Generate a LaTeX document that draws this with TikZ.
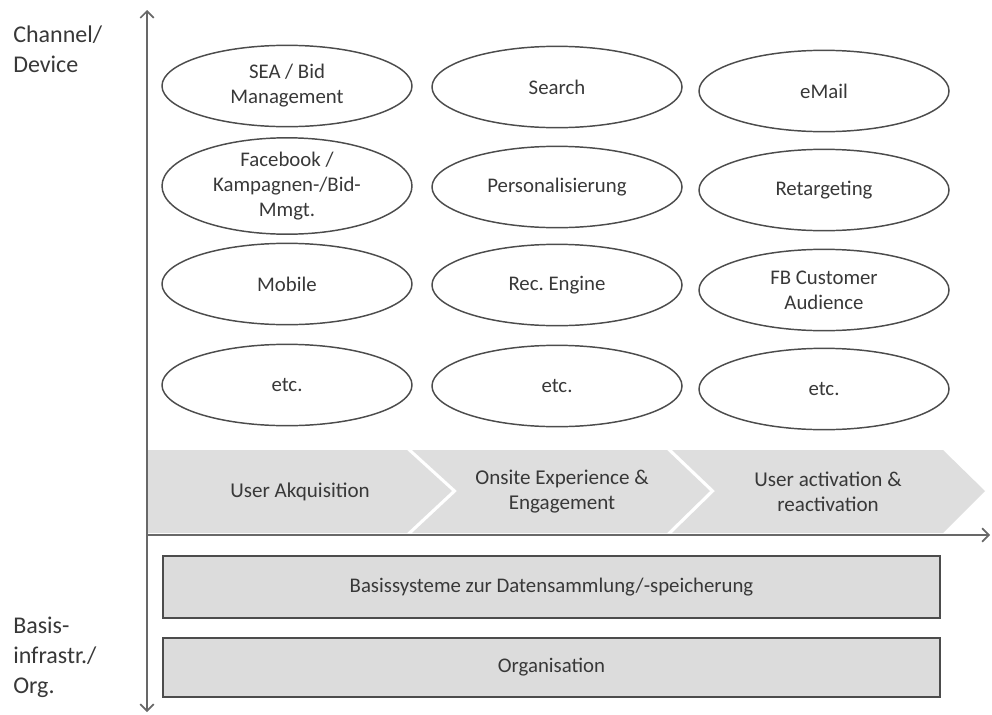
\documentclass[tikz,border=0pt]{standalone}
\usepackage{fontspec}
\setmainfont{Carlito}
\usetikzlibrary{shapes.geometric,arrows.meta}
\definecolor{txt}{HTML}{383838}
\definecolor{edge}{HTML}{4C4C4C}
\definecolor{axis}{HTML}{686868}
\definecolor{band}{HTML}{DEDEDE}
\definecolor{boxfill}{HTML}{DCDCDC}
\begin{document}
\begin{tikzpicture}[x=0.75pt,y=-0.75pt,
  every node/.style={text=txt,font=\fontsize{15.6}{18.8}\selectfont},
  channel/.style={ellipse,draw=edge,line width=1.1pt,minimum width=187.5pt,minimum height=61pt,inner sep=0pt,align=center},
  phase/.style={fill=band,draw=none},
  phasetext/.style={align=center,font=\fontsize{15.8}{18.8}\selectfont},
  basebox/.style={draw=edge,fill=boxfill,line width=1.1pt,minimum width=583pt,inner sep=0pt},
  sidelabel/.style={anchor=north west,align=left,inner sep=0pt,font=\fontsize{18}{22.5}\selectfont},
  axisline/.style={draw=axis,line width=1.3pt,-{Straight Barb[length=5pt,width=10pt]}}]
\useasboundingbox (0,0) rectangle (992,714);

% axes
\coordinate (origin) at (147,535);
\coordinate (top) at (147,10);
\coordinate (bottom) at (147,712);
\coordinate (right) at (990,535);

% phase band (chevrons)
\path[phase] (148,450) -- (407,450) -- (452,491) -- (407,533) -- (148,533) -- cycle;
\path[phase] (412,450) -- (667,450) -- (710,491) -- (667,533) -- (412,533) -- (457,491) -- cycle;
\path[phase] (672,450) -- (943,450) -- (985,491) -- (943,533) -- (672,533) -- (715,491) -- cycle;
\node[phasetext] (ph1) at (300,492) {User Akquisition};
\node[phasetext] (ph2) at (562,492) {Onsite Experience \&\\Engagement};
\node[phasetext] (ph3) at (828,492) {User activation \&\\reactivation};

\draw[axisline] (origin) -- (top);
\draw[axisline] (origin) -- (bottom);
\draw[axisline] (origin) -- (right);

% channel ellipses
\node[channel] (c11) at (287,86) {SEA / Bid\\Management};
\node[channel] (c12) at (557,87) {Search};
\node[channel] (c13) at (824,91) {eMail};
\node[channel] (c21) at (287,186) {Facebook /\\Kampagnen-/Bid-\\Mmgt.};
\node[channel] (c22) at (557,187) {Personalisierung};
\node[channel] (c23) at (824,190) {Retargeting};
\node[channel] (c31) at (287,284) {Mobile};
\node[channel] (c32) at (557,285) {Rec.\ Engine};
\node[channel] (c33) at (824,290) {FB Customer\\Audience};
\node[channel] (c41) at (287,385) {etc.};
\node[channel] (c42) at (557,386) {etc.};
\node[channel] (c43) at (824,389) {etc.};

% base infrastructure boxes
\node[basebox,minimum height=46.5pt] (data) at (551.5,587) {Basissysteme zur Datensammlung/-speicherung};
\node[basebox,minimum height=44pt] (org) at (551.5,667.5) {Organisation};

% side labels
\node[sidelabel] (chl) at (13,26) {Channel/\\Device};
\node[sidelabel] (bil) at (13,617) {Basis-\\infrastr./\\Org.};
\end{tikzpicture}
\end{document}
